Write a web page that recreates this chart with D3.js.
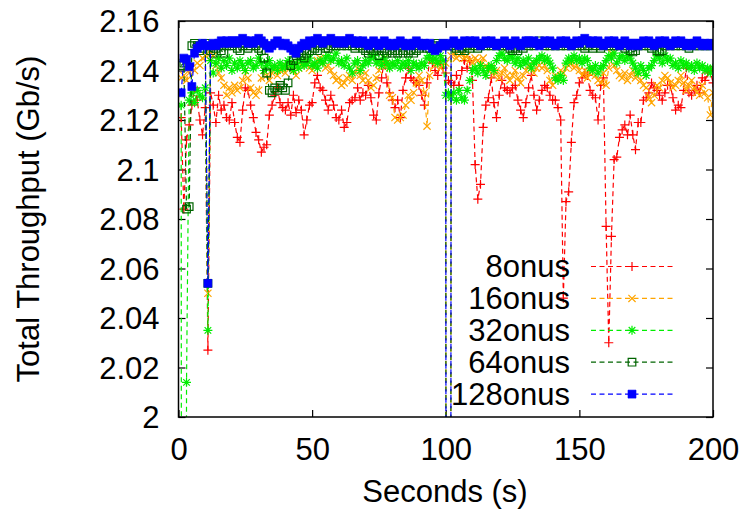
<!DOCTYPE html>
<html>
<head>
<meta charset="utf-8">
<script src="https://cdn.jsdelivr.net/npm/d3@7"></script>
<style>
  body { margin: 0; background: #fff; }
  svg text { font-family: "Liberation Sans", Arial, Helvetica, sans-serif; fill: #000; }
</style>
</head>
<body>
<svg id="chart" width="746" height="515"></svg>
<script>
// Sample times (s) and total throughput per run (Gb/s)
const seconds = d3.range(1, 201);

const onus8 = [
  2.121, 2.084, 2.112, 2.118, 2.126, 2.133, 2.128, 2.120, 2.114, 2.125,
  2.027, 2.131, 2.126, 2.119, 2.130, 2.124, 2.126, 2.121, 2.120, 2.127,
  2.119, 2.113, 2.111, 2.124, 2.133, 2.132, 2.126, 2.121, 2.115, 2.112,
  2.107, 2.109, 2.110, 2.122, 2.126, 2.130, 2.133, 2.127, 2.125, 2.124,
  2.127, 2.122, 2.130, 2.123, 2.128, 2.124, 2.114, 2.120, 2.126, 2.127,
  2.135, 2.138, 2.133, 2.132, 2.128, 2.124, 2.130, 2.126, 2.121, 2.120,
  2.124, 2.117, 2.119, 2.127, 2.128, 2.129, 2.133, 2.128, 2.131, 2.130,
  2.134, 2.129, 2.122, 2.120, 2.131, 2.137, 2.144, 2.135, 2.131, 2.128,
  2.125, 2.128, 2.121, 2.132, 2.137, 2.141, 2.137, 2.136, 2.135, 2.134,
  2.130, 2.126, 2.135, 2.145, 2.143, 2.140, 2.138, 2.144, 2.141, 2.139,
  2.136, 2.135, 2.134, 2.138, 2.134, 2.140, 2.144, 2.141, 2.144, 2.136,
  2.102, 2.088, 2.094, 2.117, 2.126, 2.129, 2.137, 2.127, 2.121, 2.130,
  2.136, 2.133, 2.132, 2.131, 2.133, 2.134, 2.128, 2.124, 2.121, 2.127,
  2.133, 2.138, 2.130, 2.124, 2.128, 2.132, 2.134, 2.133, 2.130, 2.128,
  2.128, 2.125, 2.120, 2.048, 2.087, 2.091, 2.111, 2.127, 2.130, 2.135,
  2.137, 2.139, 2.138, 2.132, 2.130, 2.129, 2.120, 2.134, 2.137, 2.077,
  2.030, 2.073, 2.104, 2.105, 2.113, 2.116, 2.118, 2.114, 2.122, 2.114,
  2.108, 2.119, 2.119, 2.128, 2.129, 2.131, 2.135, 2.133, 2.132, 2.130,
  2.128, 2.131, 2.134, 2.134, 2.129, 2.124, 2.126, 2.125, 2.132, 2.141,
  2.131, 2.130, 2.132, 2.134, 2.131, 2.137, 2.136, 2.139, 2.140, 2.135
];

const onus16 = [
  2.137, 2.138, 2.136, 2.139, 2.141, 2.140, 2.143, 2.142, 2.145, 2.146,
  2.050, 2.147, 2.146, 2.142, 2.139, 2.137, 2.134, 2.130, 2.133, 2.131,
  2.134, 2.132, 2.133, 2.136, 2.140, 2.137, 2.133, 2.131, 2.130, 2.132,
  2.137, 2.140, 2.138, 2.136, 2.139, 2.141, 2.138, 2.140, 2.142, 2.139,
  2.141, 2.143, 2.140, 2.138, 2.141, 2.142, 2.143, 2.144, 2.141, 2.140,
  2.142, 2.144, 2.145, 2.143, 2.141, 2.142, 2.140, 2.138, 2.136, 2.137,
  2.134, 2.135, 2.137, 2.138, 2.136, 2.139, 2.141, 2.138, 2.136, 2.139,
  2.136, 2.133, 2.134, 2.137, 2.140, 2.143, 2.145, 2.142, 2.130, 2.129,
  2.121, 2.120, 2.121, 2.122, 2.126, 2.130, 2.128, 2.131, 2.135, 2.138,
  2.136, 2.131, 2.1175, 2.138, 2.144, 2.142, 2.143, 2.141, 2.142, 2.143,
  0, 2.146, 2.147, 2.145, 2.146, 2.147, 2.145, 2.146, 2.144, 2.143,
  2.145, 2.144, 2.143, 2.145, 2.142, 2.140, 2.141, 2.138, 2.140, 2.137,
  2.139, 2.141, 2.138, 2.136, 2.138, 2.140, 2.137, 2.135, 2.138, 2.140,
  2.142, 2.141, 2.139, 2.141, 2.142, 2.141, 2.142, 2.140, 2.136, 2.134,
  2.138, 2.137, 2.140, 2.139, 2.141, 2.142, 2.143, 2.141, 2.142, 2.140,
  2.138, 2.140, 2.137, 2.139, 2.141, 2.138, 2.136, 2.135, 2.139, 2.134,
  2.141, 2.147, 2.142, 2.140, 2.138, 2.137, 2.139, 2.136, 2.138, 2.140,
  2.137, 2.139, 2.136, 2.134, 2.133, 2.129, 2.127, 2.130, 2.134, 2.133,
  2.136, 2.138, 2.137, 2.135, 2.133, 2.134, 2.136, 2.138, 2.135, 2.132,
  2.134, 2.136, 2.133, 2.131, 2.130, 2.134, 2.131, 2.129, 2.122, 2.131
];

const onus32 = [
  2.126, 0, 2.014, 2.128, 2.131, 2.127, 2.132, 2.130, 2.129, 2.133,
  2.035, 2.144, 2.139, 2.143, 2.145, 2.141, 2.144, 2.142, 2.145, 2.140,
  2.143, 2.141, 2.144, 2.142, 2.140, 2.143, 2.144, 2.141, 2.142, 2.145,
  2.143, 2.140, 2.142, 2.144, 2.141, 2.142, 2.140, 2.143, 2.141, 2.142,
  2.144, 2.142, 2.140, 2.143, 2.141, 2.144, 2.142, 2.143, 2.145, 2.142,
  2.143, 2.141, 2.144, 2.143, 2.145, 2.146, 2.144, 2.145, 2.147, 2.143,
  2.144, 2.142, 2.145, 2.141, 2.139, 2.143, 2.144, 2.140, 2.142, 2.144,
  2.143, 2.145, 2.146, 2.143, 2.144, 2.142, 2.145, 2.143, 2.141, 2.143,
  2.142, 2.144, 2.141, 2.143, 2.142, 2.144, 2.140, 2.143, 2.142, 2.141,
  2.143, 2.142, 2.145, 2.146, 2.144, 2.145, 2.143, 2.146, 2.144, 2.130,
  2.131, 2.129, 2.131, 2.128, 2.132, 2.129, 2.128, 2.132, 2.136, 2.140,
  2.141, 2.139, 2.142, 2.140, 2.138, 2.141, 2.142, 2.140, 2.144, 2.146,
  2.147, 2.145, 2.144, 2.146, 2.145, 2.143, 2.145, 2.142, 2.144, 2.143,
  2.145, 2.141, 2.143, 2.144, 2.145, 2.146, 2.144, 2.145, 2.143, 2.141,
  2.137, 2.136, 2.138, 2.136, 2.143, 2.145, 2.144, 2.146, 2.144, 2.145,
  2.143, 2.145, 2.144, 2.141, 2.140, 2.142, 2.139, 2.141, 2.142, 2.144,
  2.146, 2.145, 2.147, 2.143, 2.145, 2.146, 2.144, 2.146, 2.145, 2.143,
  2.141, 2.139, 2.142, 2.140, 2.138, 2.141, 2.142, 2.144, 2.146, 2.145,
  2.143, 2.146, 2.144, 2.145, 2.142, 2.143, 2.141, 2.144, 2.142, 2.143,
  2.141, 2.142, 2.140, 2.143, 2.141, 2.142, 2.140, 2.141, 2.139, 2.141
];

const onus64 = [
  2.142, 2.143, 2.084, 2.085, 2.150, 2.151, 2.150, 2.148, 2.149, 2.151,
  2.054, 2.148, 2.147, 2.149, 2.150, 2.148, 2.147, 2.150, 2.151, 2.150,
  2.151, 2.149, 2.148, 2.150, 2.151, 2.149, 2.150, 2.151, 2.150, 2.149,
  2.148, 2.145, 2.139, 2.132, 2.131, 2.133, 2.132, 2.134, 2.133, 2.132,
  2.135, 2.142, 2.144, 2.146, 2.147, 2.146, 2.145, 2.147, 2.148, 2.148,
  2.149, 2.148, 2.150, 2.151, 2.149, 2.149, 2.150, 2.151, 2.150, 2.151,
  2.150, 2.151, 2.150, 2.151, 2.150, 2.149, 2.151, 2.150, 2.149, 2.148,
  2.147, 2.149, 2.148, 2.150, 2.146, 2.149, 2.148, 2.147, 2.148, 2.147,
  2.148, 2.147, 2.148, 2.147, 2.148, 2.147, 2.148, 2.147, 2.148, 2.149,
  2.150, 2.151, 2.149, 2.149, 2.150, 2.149, 2.151, 2.150, 2.151, 2.150,
  0, 2.150, 2.151, 2.149, 2.148, 2.149, 2.148, 2.150, 2.149, 2.151,
  2.150, 2.149, 2.150, 2.151, 2.150, 2.151, 2.150, 2.151, 2.150, 2.151,
  2.150, 2.151, 2.150, 2.149, 2.148, 2.149, 2.148, 2.150, 2.149, 2.151,
  2.150, 2.151, 2.150, 2.151, 2.152, 2.151, 2.150, 2.151, 2.150, 2.151,
  2.150, 2.151, 2.150, 2.151, 2.150, 2.151, 2.150, 2.151, 2.150, 2.151,
  2.150, 2.149, 2.150, 2.151, 2.149, 2.150, 2.151, 2.149, 2.150, 2.151,
  2.150, 2.151, 2.150, 2.151, 2.150, 2.151, 2.149, 2.150, 2.148, 2.1475,
  2.148, 2.150, 2.151, 2.150, 2.151, 2.150, 2.149, 2.150, 2.148, 2.1475,
  2.148, 2.150, 2.151, 2.150, 2.151, 2.150, 2.151, 2.150, 2.151, 2.150,
  2.149, 2.151, 2.150, 2.151, 2.150, 2.151, 2.150, 2.151, 2.150, 2.151
];

const onus128 = [
  2.131, 2.145, 2.1445, 2.1415, 2.1335, 2.147, 2.149, 2.150, 2.151, 2.150,
  2.054, 2.150, 2.151, 2.150, 2.151, 2.152, 2.151, 2.152, 2.151, 2.152,
  2.152, 2.151, 2.152, 2.153, 2.152, 2.151, 2.152, 2.151, 2.152, 2.153,
  2.152, 2.151, 2.150, 2.149, 2.150, 2.151, 2.152, 2.151, 2.150, 2.151,
  2.150, 2.149, 2.148, 2.147, 2.149, 2.150, 2.151, 2.150, 2.152, 2.151,
  2.152, 2.153, 2.152, 2.151, 2.152, 2.152, 2.153, 2.152, 2.151, 2.152,
  2.152, 2.151, 2.152, 2.153, 2.152, 2.151, 2.152, 2.151, 2.152, 2.151,
  2.150, 2.151, 2.152, 2.151, 2.150, 2.151, 2.152, 2.151, 2.150, 2.151,
  2.150, 2.151, 2.152, 2.151, 2.150, 2.151, 2.150, 2.151, 2.152, 2.151,
  2.150, 2.151, 2.150, 2.151, 2.149, 2.148, 2.149, 2.150, 2.151, 2.150,
  0, 2.151, 2.152, 2.151, 2.150, 2.151, 2.152, 2.151, 2.152, 2.151,
  2.152, 2.151, 2.150, 2.151, 2.152, 2.151, 2.152, 2.151, 2.150, 2.151,
  2.151, 2.152, 2.151, 2.150, 2.151, 2.152, 2.151, 2.150, 2.151, 2.152,
  2.152, 2.151, 2.152, 2.151, 2.150, 2.151, 2.152, 2.151, 2.152, 2.151,
  2.150, 2.151, 2.152, 2.151, 2.152, 2.151, 2.150, 2.151, 2.152, 2.151,
  2.152, 2.153, 2.152, 2.151, 2.152, 2.151, 2.152, 2.151, 2.150, 2.151,
  2.152, 2.151, 2.152, 2.151, 2.150, 2.151, 2.152, 2.151, 2.150, 2.151,
  2.151, 2.150, 2.151, 2.152, 2.151, 2.152, 2.151, 2.150, 2.151, 2.152,
  2.151, 2.152, 2.151, 2.150, 2.151, 2.152, 2.151, 2.152, 2.151, 2.150,
  2.151, 2.150, 2.151, 2.152, 2.151, 2.150, 2.151, 2.150, 2.151, 2.150
];

const seriesNames = ["8onus", "16onus", "32onus", "64onus", "128onus"];
const seriesValues = [onus8, onus16, onus32, onus64, onus128];
const seriesColors = ["#ff0000", "#ffa500", "#00ee00", "#006400", "#0000ff"];
const seriesMarkers = ["plus", "cross", "star", "square", "filledSquare"];

const xTicks = [0, 50, 100, 150, 200];
const yTicks = [2, 2.02, 2.04, 2.06, 2.08, 2.1, 2.12, 2.14, 2.16];
const yTickLabels = ["2", "2.02", "2.04", "2.06", "2.08", "2.1", "2.12", "2.14", "2.16"];

const FONT = 31;
const plot = { left: 178.5, right: 713, top: 21, bottom: 417 };

const svg = d3.select("#chart");
const x = d3.scaleLinear().domain([0, 200]).range([plot.left, plot.right]);
const y = d3.scaleLinear().domain([2, 2.16]).range([plot.bottom, plot.top]);

svg.append("rect").attr("width", 746).attr("height", 515).attr("fill", "#fff");

svg.append("defs").append("clipPath").attr("id", "plotClip")
  .append("rect")
  .attr("x", plot.left).attr("y", plot.top)
  .attr("width", plot.right - plot.left).attr("height", plot.bottom - plot.top);

// Axes: inward ticks with labels, plus mirrored ticks on top/right
function styleAxis(g) {
  g.select(".domain").remove();
  g.selectAll(".tick line").attr("stroke", "#000").attr("stroke-width", 1.2);
  g.selectAll("text").attr("font-size", FONT).attr("font-family", null).attr("fill", "#000");
}

svg.append("g")
  .attr("transform", `translate(${plot.left},0)`)
  .call(d3.axisLeft(y).tickValues(yTicks)
    .tickFormat((d, i) => yTickLabels[i])
    .tickSizeInner(-7).tickSizeOuter(0).tickPadding(19))
  .call(styleAxis)
  .selectAll("text").attr("dy", "0.34em");

svg.append("g")
  .attr("transform", `translate(${plot.right},0)`)
  .call(d3.axisRight(y).tickValues(yTicks).tickFormat("").tickSizeInner(-7).tickSizeOuter(0))
  .call(styleAxis);

svg.append("g")
  .attr("transform", `translate(0,${plot.bottom})`)
  .call(d3.axisBottom(x).tickValues(xTicks).tickFormat(d3.format("d"))
    .tickSizeInner(-7).tickSizeOuter(0).tickPadding(21))
  .call(styleAxis);

svg.append("g")
  .attr("transform", `translate(0,${plot.top})`)
  .call(d3.axisTop(x).tickValues(xTicks).tickFormat("").tickSizeInner(-7).tickSizeOuter(0))
  .call(styleAxis);

// Axis titles
svg.append("text")
  .attr("transform", "translate(39,219) rotate(-90)")
  .attr("text-anchor", "middle")
  .attr("font-size", FONT)
  .text("Total Throughput (Gb/s)");

svg.append("text")
  .attr("x", 445).attr("y", 502)
  .attr("text-anchor", "middle")
  .attr("font-size", FONT)
  .text("Seconds (s)");

// Point symbols
const symbolPaths = {
  plus: "M-4.5,0H4.5M0,-4.5V4.5",
  cross: "M-3.6,-3.6L3.6,3.6M-3.6,3.6L3.6,-3.6",
  star: "M-4.5,0H4.5M0,-4.5V4.5M-3.3,-3.3L3.3,3.3M-3.3,3.3L3.3,-3.3",
  square: "M-3.8,-3.8H3.8V3.8H-3.8Z",
  filledSquare: "M-4,-4H4V4H-4Z"
};

function drawSymbol(sel, kind, color) {
  sel.append("path")
    .attr("d", symbolPaths[kind])
    .attr("fill", kind === "filledSquare" ? color : "none")
    .attr("stroke", color)
    .attr("stroke-width", kind === "filledSquare" ? 0.6 : 1.2);
}

const line = d3.line()
  .x((d, i) => x(seconds[i]))
  .y(d => y(d));

const dataLayer = svg.append("g").attr("clip-path", "url(#plotClip)");

seriesValues.forEach((vals, s) => {
  const g = dataLayer.append("g");
  g.append("path")
    .datum(vals)
    .attr("d", line)
    .attr("fill", "none")
    .attr("stroke", seriesColors[s])
    .attr("stroke-width", 1.2)
    .attr("stroke-dasharray", "5,3.5");
  g.selectAll("g.pt")
    .data(vals)
    .join("g")
    .attr("class", "pt")
    .attr("transform", (d, i) => `translate(${x(seconds[i])},${y(d)})`)
    .each(function () { drawSymbol(d3.select(this), seriesMarkers[s], seriesColors[s]); });
});

// Frame
svg.append("rect")
  .attr("x", plot.left).attr("y", plot.top)
  .attr("width", plot.right - plot.left).attr("height", plot.bottom - plot.top)
  .attr("fill", "none").attr("stroke", "#000").attr("stroke-width", 1.5);

// Legend
const legend = svg.append("g");
seriesNames.forEach((name, s) => {
  const cy = 266.5 + s * 31.9;
  legend.append("text")
    .attr("x", 570).attr("y", cy).attr("dy", "0.35em")
    .attr("text-anchor", "end")
    .attr("font-size", FONT)
    .text(name);
  legend.append("line")
    .attr("x1", 591).attr("x2", 675).attr("y1", cy).attr("y2", cy)
    .attr("stroke", seriesColors[s]).attr("stroke-width", 1.2)
    .attr("stroke-dasharray", "5,3.5");
  const m = legend.append("g").attr("transform", `translate(632,${cy})`);
  drawSymbol(m, seriesMarkers[s], seriesColors[s]);
});
</script>
</body>
</html>
